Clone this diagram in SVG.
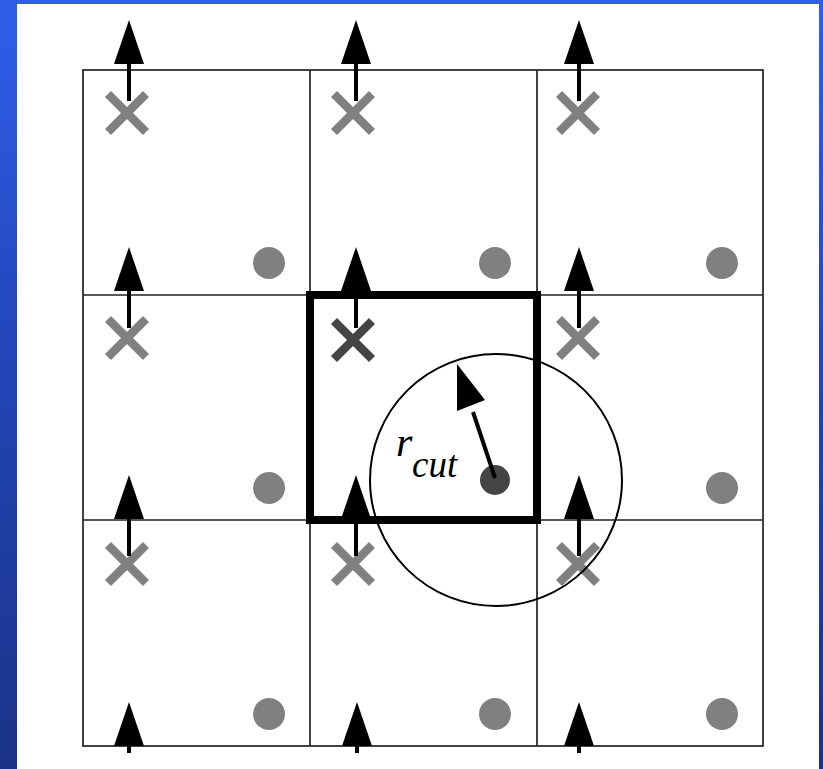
<svg xmlns="http://www.w3.org/2000/svg" width="823" height="769" viewBox="0 0 823 769">
  <defs>
    <linearGradient id="bg" x1="0" y1="0" x2="0" y2="1">
      <stop offset="0" stop-color="#2f5fea"/>
      <stop offset="0.5" stop-color="#2244b4"/>
      <stop offset="1" stop-color="#1a3388"/>
    </linearGradient>
    <g id="xmark">
      <path d="M-19,-19 L19,19 M-19,19 L19,-19"/>
    </g>
    <g id="uparrow">
      <path d="M0,0 L0,-38" class="shaft"/>
      <polygon points="0,-81 -15,-37 15,-37" class="head"/>
    </g>
    <g id="stubarrow">
      <path d="M0,0 L0,-8" class="shaft"/>
      <polygon points="0,-51 -15,-7 15,-7" class="head"/>
    </g>
  </defs>
  <style>
    .grid { fill: none; stroke: #222; stroke-width: 1.7; }
    .cell { fill: none; stroke: #000; stroke-width: 8; }
    .xg { stroke: #808080; stroke-width: 8.5; fill: none; }
    .xd { stroke: #444; stroke-width: 8.5; fill: none; }
    .shaft { stroke: #000; stroke-width: 4; fill: none; }
    .head { fill: #000; stroke: none; }
    .dot { fill: #808080; }
    .dotd { fill: #444; }
    .cut { fill: none; stroke: #000; stroke-width: 2; }
    .lbl { font-family: "Liberation Serif", "Times New Roman", serif; font-style: italic; fill: #000; }
  </style>
  <rect x="0" y="0" width="823" height="769" fill="url(#bg)"/>
  <rect x="17" y="4" width="802" height="765" fill="#ffffff"/>

  <g id="grid">
    <rect class="grid" x="83" y="70" width="680" height="676"/>
    <path class="grid" d="M310,70 V746 M537,70 V746 M83,295 H763 M83,520 H763"/>
  </g>

  <g id="particles-x">
    <use href="#xmark" class="xg" x="127" y="113"/>
    <use href="#xmark" class="xg" x="353" y="113"/>
    <use href="#xmark" class="xg" x="578" y="113"/>
    <use href="#xmark" class="xg" x="127" y="338"/>
    <use href="#xmark" class="xd" x="353" y="340"/>
    <use href="#xmark" class="xg" x="578" y="338"/>
    <use href="#xmark" class="xg" x="127" y="564"/>
    <use href="#xmark" class="xg" x="353" y="564"/>
    <use href="#xmark" class="xg" x="578" y="564"/>
  </g>

  <g id="dots">
    <circle class="dot" cx="269" cy="263" r="16"/>
    <circle class="dot" cx="495" cy="263" r="16"/>
    <circle class="dot" cx="722" cy="263" r="16"/>
    <circle class="dot" cx="269" cy="488" r="16"/>
    <circle class="dot" cx="722" cy="488" r="16"/>
    <circle class="dot" cx="269" cy="714" r="16"/>
    <circle class="dot" cx="495" cy="714" r="16"/>
    <circle class="dot" cx="722" cy="714" r="16"/>
  </g>

  <g id="center-cell">
    <rect class="cell" x="310" y="295" width="227" height="225"/>
  </g>

  <g id="cutoff">
    <circle class="cut" cx="496" cy="480" r="126"/>
    <circle class="dotd" cx="495" cy="480" r="15"/>
  </g>

  <g id="connectors">
    <g transform="translate(129,101)"><use href="#uparrow"/></g>
    <g transform="translate(356,101)"><use href="#uparrow"/></g>
    <g transform="translate(579,101)"><use href="#uparrow"/></g>
    <g transform="translate(129,328)"><use href="#uparrow"/></g>
    <g transform="translate(356,328)"><use href="#uparrow"/></g>
    <g transform="translate(579,328)"><use href="#uparrow"/></g>
    <g transform="translate(129,556)"><use href="#uparrow"/></g>
    <g transform="translate(356,556)"><use href="#uparrow"/></g>
    <g transform="translate(579,556)"><use href="#uparrow"/></g>
    <g transform="translate(129,753)"><use href="#stubarrow"/></g>
    <g transform="translate(357,753)"><use href="#stubarrow"/></g>
    <g transform="translate(579,753)"><use href="#stubarrow"/></g>
    <path class="shaft" d="M495,478 L473,412"/>
    <polygon class="head" points="457,364 457,411 485,400"/>
  </g>

  <g id="label">
    <text class="lbl" x="396" y="456" font-size="42">r</text>
    <text class="lbl" x="412" y="477" font-size="37">cut</text>
  </g>
</svg>
